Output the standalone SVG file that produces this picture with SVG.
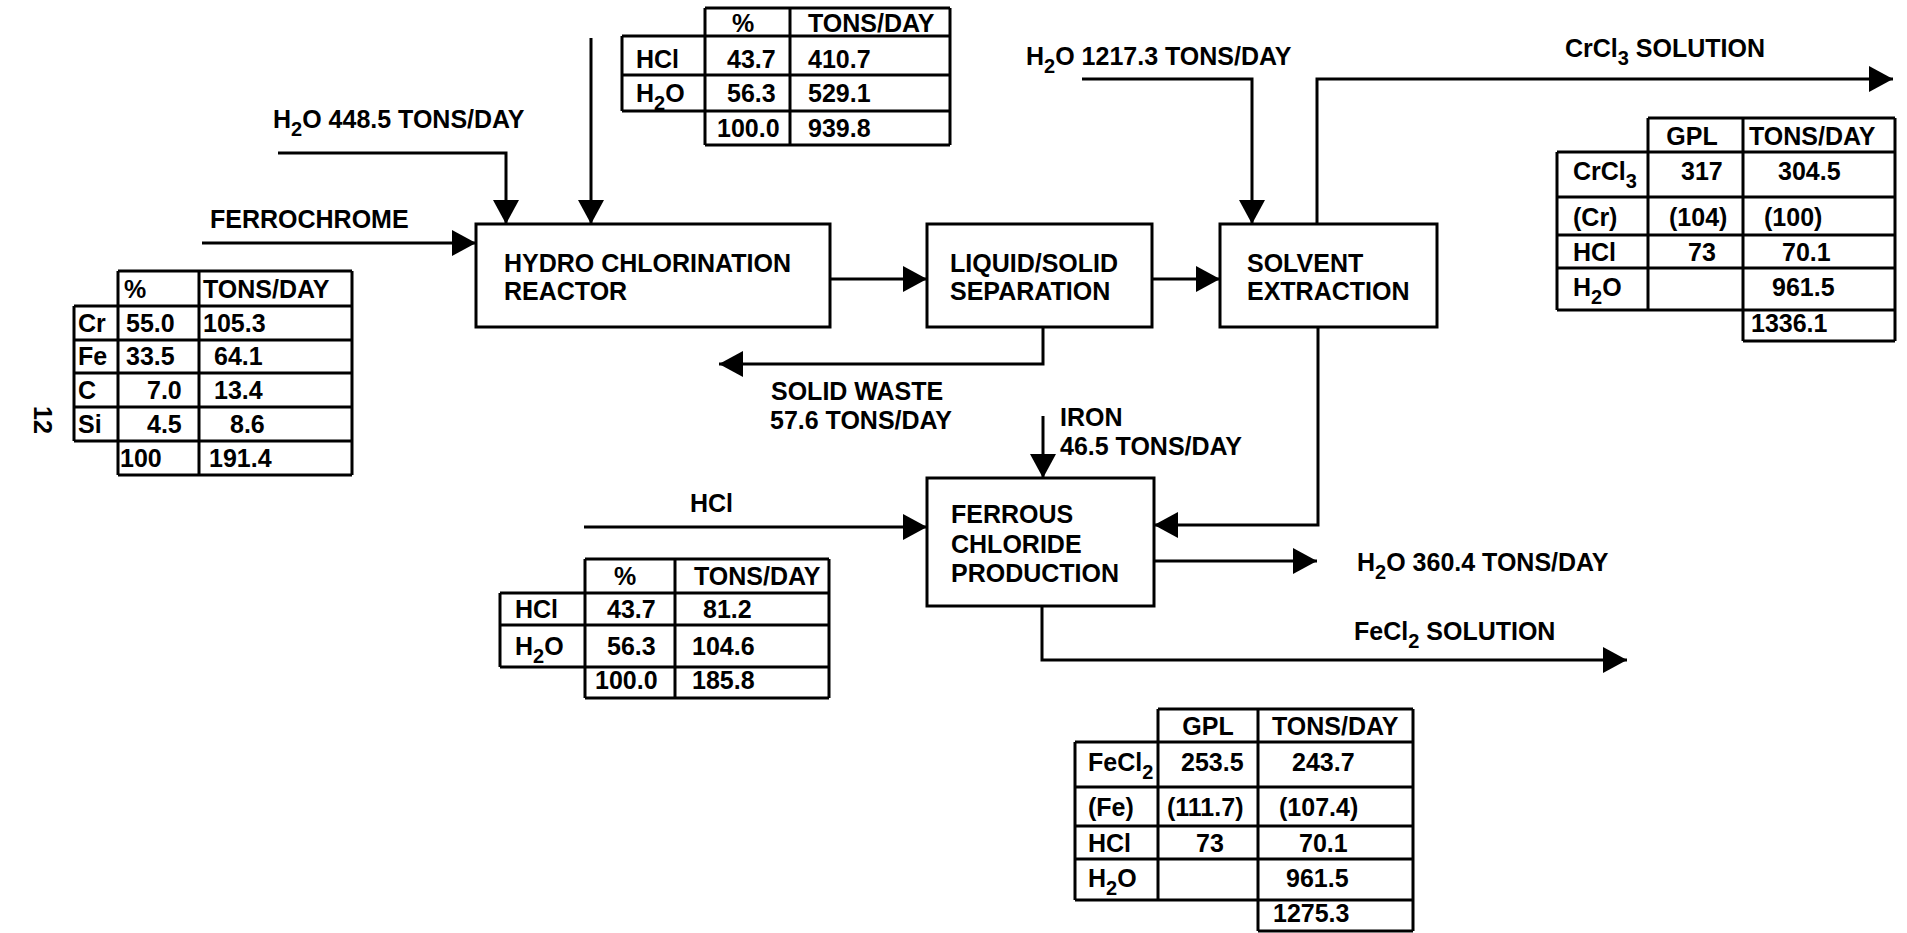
<svg xmlns="http://www.w3.org/2000/svg" width="1907" height="933" viewBox="0 0 1907 933">
<style>
text{font-family:"Liberation Sans",Arial,sans-serif;font-weight:bold;font-size:25px;fill:#000}
.s{font-size:20px}
.box{fill:#fff;stroke:#000;stroke-width:3}
.grid{fill:none;stroke:#000;stroke-width:3}
.c{fill:none;stroke:#000;stroke-width:3}
.m{text-anchor:middle}
</style>
<defs>
<marker id="ah" markerUnits="userSpaceOnUse" viewBox="0 0 24 26" refX="24" refY="13" markerWidth="24" markerHeight="26" orient="auto">
<path d="M0,0 L24,13 L0,26 Z" fill="#000"/>
</marker>
</defs>
<rect width="1907" height="933" fill="#fff"/>

<g id="connectors">
<path class="c" d="M591,38 V224" marker-end="url(#ah)"/>
<path class="c" d="M278,153 H506 V224" marker-end="url(#ah)"/>
<path class="c" d="M202,243 H476" marker-end="url(#ah)"/>
<path class="c" d="M830,279 H927" marker-end="url(#ah)"/>
<path class="c" d="M1152,279 H1220" marker-end="url(#ah)"/>
<path class="c" d="M1082,79 H1252 V224" marker-end="url(#ah)"/>
<path class="c" d="M1317,224 V79 H1893" marker-end="url(#ah)"/>
<path class="c" d="M1043,327 V364 H719" marker-end="url(#ah)"/>
<path class="c" d="M1043,416 V478" marker-end="url(#ah)"/>
<path class="c" d="M584,527 H927" marker-end="url(#ah)"/>
<path class="c" d="M1318,327 V525 H1154" marker-end="url(#ah)"/>
<path class="c" d="M1154,561 H1317" marker-end="url(#ah)"/>
<path class="c" d="M1042,606 V660 H1627" marker-end="url(#ah)"/>
</g>

<g id="labels">
<text x="273" y="128">H<tspan class="s" dy="8">2</tspan><tspan dy="-8">O 448.5 TONS/DAY</tspan></text>
<text x="210" y="228">FERROCHROME</text>
<text x="1026" y="65">H<tspan class="s" dy="8">2</tspan><tspan dy="-8">O 1217.3 TONS/DAY</tspan></text>
<text x="1565" y="57">CrCl<tspan class="s" dy="8">3</tspan><tspan dy="-8"> SOLUTION</tspan></text>
<text x="771" y="400">SOLID WASTE</text>
<text x="770" y="429">57.6 TONS/DAY</text>
<text x="1060" y="426">IRON</text>
<text x="1060" y="455">46.5 TONS/DAY</text>
<text x="690" y="512">HCl</text>
<text x="1357" y="571">H<tspan class="s" dy="8">2</tspan><tspan dy="-8">O 360.4 TONS/DAY</tspan></text>
<text x="1354" y="640">FeCl<tspan class="s" dy="8">2</tspan><tspan dy="-8"> SOLUTION</tspan></text>
<text class="m" transform="translate(43,420) rotate(90)" dy="9">12</text>
</g>

<g id="hydro-chlorination-reactor">
<rect class="box" x="476" y="224" width="354" height="103"/>
<text x="504" y="272">HYDRO CHLORINATION</text>
<text x="504" y="300">REACTOR</text>
</g>

<g id="liquid-solid-separation">
<rect class="box" x="927" y="224" width="225" height="103"/>
<text x="950" y="272">LIQUID/SOLID</text>
<text x="950" y="300">SEPARATION</text>
</g>

<g id="solvent-extraction">
<rect class="box" x="1220" y="224" width="217" height="103"/>
<text x="1247" y="272">SOLVENT</text>
<text x="1247" y="300">EXTRACTION</text>
</g>

<g id="ferrous-chloride-production">
<rect class="box" x="927" y="478" width="227" height="128"/>
<text x="951" y="523">FERROUS</text>
<text x="951" y="553">CHLORIDE</text>
<text x="951" y="582">PRODUCTION</text>
</g>

<g id="table-hcl-feed">
<path class="grid" d="M705,8 H950 M622,36 H950 M622,75 H950 M622,111 H950 M705,145 H950 M622,36 V111 M705,8 V145 M790,8 V145 M950,8 V145"/>
<text x="732" y="32">%</text><text x="808" y="32">TONS/DAY</text>
<text x="636" y="68">HCl</text><text x="727" y="68">43.7</text><text x="808" y="68">410.7</text>
<text x="636" y="102">H<tspan class="s" dy="8">2</tspan><tspan dy="-8">O</tspan></text><text x="727" y="102">56.3</text><text x="808" y="102">529.1</text>
<text x="717" y="137">100.0</text><text x="808" y="137">939.8</text>
</g>

<g id="table-ferrochrome">
<path class="grid" d="M118,271 H352 M74,306 H352 M74,340 H352 M74,373 H352 M74,407 H352 M74,441 H352 M118,475 H352 M74,306 V441 M118,271 V475 M199,271 V475 M352,271 V475"/>
<text x="124" y="298">%</text><text x="203" y="298">TONS/DAY</text>
<text x="78" y="332">Cr</text><text x="126" y="332">55.0</text><text x="203" y="332">105.3</text>
<text x="78" y="365">Fe</text><text x="126" y="365">33.5</text><text x="214" y="365">64.1</text>
<text x="78" y="399">C</text><text x="147" y="399">7.0</text><text x="214" y="399">13.4</text>
<text x="78" y="433">Si</text><text x="147" y="433">4.5</text><text x="230" y="433">8.6</text>
<text x="120" y="467">100</text><text x="209" y="467">191.4</text>
</g>

<g id="table-crcl3-solution">
<path class="grid" d="M1648,118 H1895 M1557,152 H1895 M1557,197 H1895 M1557,235 H1895 M1557,268 H1895 M1557,310 H1895 M1743,341 H1895 M1557,152 V310 M1648,118 V310 M1743,118 V341 M1895,118 V341"/>
<text class="m" x="1692" y="145">GPL</text><text x="1749" y="145">TONS/DAY</text>
<text x="1573" y="180">CrCl<tspan class="s" dy="8">3</tspan></text><text x="1681" y="180">317</text><text x="1778" y="180">304.5</text>
<text x="1573" y="226">(Cr)</text><text x="1669" y="226">(104)</text><text x="1764" y="226">(100)</text>
<text x="1573" y="261">HCl</text><text x="1688" y="261">73</text><text x="1782" y="261">70.1</text>
<text x="1573" y="296">H<tspan class="s" dy="8">2</tspan><tspan dy="-8">O</tspan></text><text x="1772" y="296">961.5</text>
<text x="1751" y="332">1336.1</text>
</g>

<g id="table-hcl-bottom">
<path class="grid" d="M585,559 H829 M500,593 H829 M500,625 H829 M500,667 H829 M585,698 H829 M500,593 V667 M585,559 V698 M675,559 V698 M829,559 V698"/>
<text x="614" y="585">%</text><text x="694" y="585">TONS/DAY</text>
<text x="515" y="618">HCl</text><text x="607" y="618">43.7</text><text x="703" y="618">81.2</text>
<text x="515" y="655">H<tspan class="s" dy="8">2</tspan><tspan dy="-8">O</tspan></text><text x="607" y="655">56.3</text><text x="692" y="655">104.6</text>
<text x="595" y="689">100.0</text><text x="692" y="689">185.8</text>
</g>

<g id="table-fecl2-solution">
<path class="grid" d="M1158,709 H1413 M1075,742 H1413 M1075,787 H1413 M1075,826 H1413 M1075,859 H1413 M1075,900 H1413 M1258,931 H1413 M1075,742 V900 M1158,709 V900 M1258,709 V931 M1413,709 V931"/>
<text class="m" x="1208" y="735">GPL</text><text x="1272" y="735">TONS/DAY</text>
<text x="1088" y="771">FeCl<tspan class="s" dy="8">2</tspan></text><text x="1181" y="771">253.5</text><text x="1292" y="771">243.7</text>
<text x="1088" y="816">(Fe)</text><text x="1167" y="816">(111.7)</text><text x="1279" y="816">(107.4)</text>
<text x="1088" y="852">HCl</text><text x="1196" y="852">73</text><text x="1299" y="852">70.1</text>
<text x="1088" y="887">H<tspan class="s" dy="8">2</tspan><tspan dy="-8">O</tspan></text><text x="1286" y="887">961.5</text>
<text x="1273" y="922">1275.3</text>
</g>
</svg>
